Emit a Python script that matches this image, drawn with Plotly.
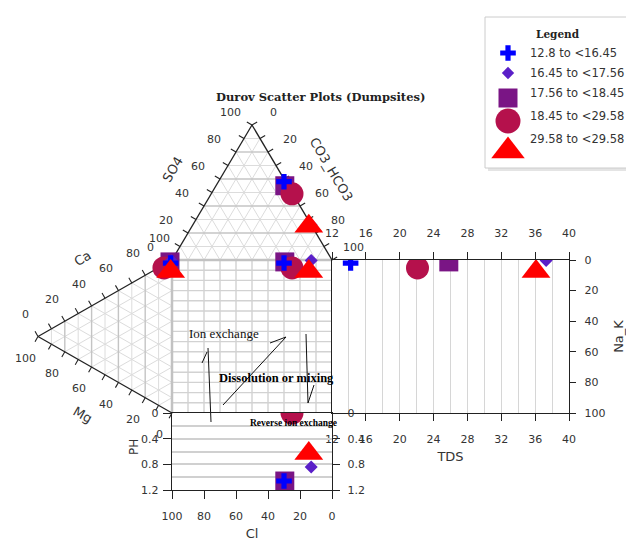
import math
import plotly.graph_objects as go

# ------------------------------------------------------------------ data
classes = ["12.8 to <16.45", "16.45 to <17.56", "17.56 to <18.45",
           "18.45 to <29.58", "29.58 to <29.58"]
# anion composition (% meq)
cl_pct = [1.0, 0.0, 2.0, 0.5, 2.0]
so4_pct = [58.0, 26.0, 55.0, 49.0, 25.0]
hco3_pct = [41.0, 74.0, 43.0, 50.5, 73.0]
# cation composition (% meq)
ca_pct = [97.5, 99.5, 98.0, 91.8, 92.0]
mg_pct = [1.0, 0.5, 1.5, 6.0, 1.0]
nak_pct = [1.5, 0.0, 0.5, 2.2, 7.0]
tds = [14.2, 37.3, 25.8, 22.1, 36.1]
ph = [1.06, 0.84, 1.06, 0.0, 0.63]

tds_ticks = [12, 16, 20, 24, 28, 32, 36, 40]
pct_ticks = [0, 20, 40, 60, 80, 100]
ph_ticks = [0, 0.4, 0.8, 1.2]

# ------------------------------------------------------------------ styles
SYMBOLS = ["cross", "diamond", "square", "circle", "triangle-up"]
COLORS = ["#0000FF", "#5A1FC8", "#7A1585", "#B5114C", "#FF0000"]
SIZES = [13, 10, 19, 23, 25]
LEG_SIZES = [13, 9.5, 19, 25, 29]
DRAW_ORDER = [2, 3, 1, 0, 4]
TICK_FONT = dict(family="DejaVu Sans", size=11, color="#333333")
TITLE_FONT = dict(family="DejaVu Sans", size=13, color="#333333")
AX_LINE = "#222222"

# ------------------------------------------------------------------ geometry (px)
W, H = 626, 541
SQ_L, SQ_R, SQ_T, SQ_B = 172.0, 332.0, 260.0, 413.0
TDS_R = 569.0
PH_B = 490.0
TOP_H = 135.0
LEFT_W = 134.0
KX = (SQ_R - SQ_L) / 100.0
KY = (SQ_B - SQ_T) / 100.0


def to_u(p):
    """pixel position -> units of the main (square) axes"""
    return ((SQ_R - p[0]) / KX, (p[1] - SQ_T) / KY)


def mix(w, verts):
    s = float(sum(w))
    return (sum(wi * v[0] for wi, v in zip(w, verts)) / s,
            sum(wi * v[1] for wi, v in zip(w, verts)) / s)


def lerp(a, b, t):
    return (a[0] + (b[0] - a[0]) * t, a[1] + (b[1] - a[1]) * t)


V_CL = (SQ_L, SQ_T)
V_HCO3 = (SQ_R, SQ_T)
V_SO4 = ((SQ_L + SQ_R) / 2, SQ_T - TOP_H)
ANION_V = (V_CL, V_SO4, V_HCO3)

V_CA = (SQ_L, SQ_T)
V_NA = (SQ_L, SQ_B)
V_MG = (SQ_L - LEFT_W, (SQ_T + SQ_B) / 2)
CATION_V = (V_CA, V_MG, V_NA)

fig = go.Figure()


def seg_trace(segs, color, width):
    xs, ys = [], []
    for a, b in segs:
        ua, ub = to_u(a), to_u(b)
        xs += [ua[0], ub[0], None]
        ys += [ua[1], ub[1], None]
    fig.add_trace(go.Scatter(x=xs, y=ys, mode="lines", hoverinfo="skip",
                             line=dict(color=color, width=width),
                             xaxis="x", yaxis="y", showlegend=False))


# ------------------------------------------------------------------ grids
light, strong = [], []
for k in range(1, 10):
    t = k / 10.0
    # anion triangle (weights: Cl, SO4, HCO3)
    s = (mix((1 - t, t, 0), ANION_V), mix((0, t, 1 - t), ANION_V))
    (strong if k % 2 == 0 else light).append(s)
    light.append((mix((t, 1 - t, 0), ANION_V), mix((t, 0, 1 - t), ANION_V)))
    light.append((mix((0, 1 - t, t), ANION_V), mix((1 - t, 0, t), ANION_V)))
    # cation triangle (weights: Ca, Mg, Na+K)
    s = (mix((1 - t, t, 0), CATION_V), mix((0, t, 1 - t), CATION_V))
    (strong if k % 2 == 0 else light).append(s)
    light.append((mix((t, 1 - t, 0), CATION_V), mix((t, 0, 1 - t), CATION_V)))
    light.append((mix((0, 1 - t, t), CATION_V), mix((1 - t, 0, t), CATION_V)))
seg_trace(light, "#dcdcdc", 1)
seg_trace(strong, "#c4c4c4", 1.4)

sq_grid = []
for i in range(1, 10):
    x = SQ_L + (SQ_R - SQ_L) * i / 10
    sq_grid.append(((x, SQ_T), (x, SQ_B)))
for i in range(1, 15):
    y = SQ_T + (SQ_B - SQ_T) * i / 15
    sq_grid.append(((SQ_L, y), (SQ_R, y)))
seg_trace(sq_grid, "#d2d2d2", 1.4)

# inner edges shared with the square
seg_trace([(V_CA, V_NA), (V_CL, V_HCO3)], "#c2c2c2", 2.5)

# ------------------------------------------------------------------ ternary axes
tern_axes = [
    ("SO4", V_CL, V_SO4, ANION_V),
    ("CO3_HCO3", V_SO4, V_HCO3, ANION_V),
    ("Ca", V_MG, V_CA, CATION_V),
    ("Mg", V_NA, V_MG, CATION_V),
]
outline, ticks = [], []
annotations = []
for name, a, b, verts in tern_axes:
    outline.append((a, b))
    cx = sum(v[0] for v in verts) / 3
    cy = sum(v[1] for v in verts) / 3
    dx, dy = b[0] - a[0], b[1] - a[1]
    ln = math.hypot(dx, dy)
    n = (dy / ln, -dx / ln)
    mid = lerp(a, b, 0.5)
    if n[0] * (mid[0] - cx) + n[1] * (mid[1] - cy) < 0:
        n = (-n[0], -n[1])
    for v in range(0, 101, 10):
        p = lerp(a, b, v / 100)
        ticks.append((p, (p[0] + 6 * n[0], p[1] + 6 * n[1])))
    for v in pct_ticks:
        p = lerp(a, b, v / 100)
        u = to_u((p[0] + 25 * n[0], p[1] + 25 * n[1]))
        annotations.append(dict(x=u[0], y=u[1], xref="x", yref="y", text=str(v),
                                showarrow=False, font=TICK_FONT))
    ang = math.degrees(math.atan2(dy, dx))
    if ang > 90:
        ang -= 180
    if ang < -90:
        ang += 180
    u = to_u((mid[0] + 46 * n[0], mid[1] + 46 * n[1]))
    annotations.append(dict(x=u[0], y=u[1], xref="x", yref="y", text=name,
                            textangle=ang, showarrow=False,
                            font=dict(family="DejaVu Sans", size=13, color="#333333")))
seg_trace(outline, "#222222", 1.3)
seg_trace(ticks, "#222222", 1.1)

# ------------------------------------------------------------------ process arrows in the square
proc = [
    ((208, 348), (211, 422)), ((202, 363), (207, 352)),
    ((223, 405), (286, 337)), ((270, 343), (286, 337)),
    ((306, 334), (308, 403)), ((308, 403), (314, 385)),
]
seg_trace(proc, "#111111", 1)
for txt, pos, fnt in [
    ("Ion exchange", (224, 333), dict(family="Liberation Serif", size=13, color="#111")),
    ("<b>Dissolution or mixing</b>", (276, 378), dict(family="Liberation Serif", size=12.5, color="#000")),
    ("<b>Reverse ion exchange</b>", (293, 423), dict(family="Liberation Serif", size=9.5, color="#000")),
]:
    u = to_u(pos)
    annotations.append(dict(x=u[0], y=u[1], xref="x", yref="y", text=txt,
                            showarrow=False, font=fnt))

# ------------------------------------------------------------------ sample points
for i in DRAW_ORDER:
    an = mix((cl_pct[i], so4_pct[i], hco3_pct[i]), ANION_V)
    ca = mix((ca_pct[i], mg_pct[i], nak_pct[i]), CATION_V)
    pts = [to_u(an), to_u(ca), to_u((an[0], ca[1]))]
    mk = dict(symbol=SYMBOLS[i], color=COLORS[i], size=SIZES[i], line=dict(width=0))
    fig.add_trace(go.Scatter(x=[p[0] for p in pts], y=[p[1] for p in pts], mode="markers",
                             marker=mk, xaxis="x", yaxis="y", name=classes[i],
                             showlegend=False))
    # TDS panel shares the Na+K projection of the square
    fig.add_trace(go.Scatter(x=[tds[i]], y=[to_u(ca)[1]], mode="markers", marker=mk,
                             xaxis="x2", yaxis="y2", showlegend=False))
    # pH panel shares the anion projection of the square
    fig.add_trace(go.Scatter(x=[to_u(an)[0]], y=[ph[i]], mode="markers", marker=mk,
                             xaxis="x3", yaxis="y3", showlegend=False))

# empty traces so the mirrored label axes are built
fig.add_trace(go.Scatter(x=[None], y=[None], xaxis="x5", yaxis="y2", showlegend=False))
fig.add_trace(go.Scatter(x=[None], y=[None], xaxis="x3", yaxis="y7", showlegend=False))

# ------------------------------------------------------------------ legend box
LG_L, LG_T, LG_B = 485.0, 17.0, 168.0
LG_MARK_ROWS = [53, 73, 98, 121, 151]
LG_TEXT_ROWS = [53, 73, 93, 116, 139]
LG_MX, LG_TX = 508.0, 528.0
for i in range(len(classes)):
    fig.add_trace(go.Scatter(x=[LG_MX], y=[LG_MARK_ROWS[i]], mode="markers",
                             marker=dict(symbol=SYMBOLS[i], color=COLORS[i],
                                         size=LEG_SIZES[i], line=dict(width=0)),
                             xaxis="x4", yaxis="y4", showlegend=False, hoverinfo="skip"))
    annotations.append(dict(x=LG_TX, y=LG_TEXT_ROWS[i], xref="x4", yref="y4", text=classes[i],
                            xanchor="left", yanchor="middle", showarrow=False,
                            font=dict(family="DejaVu Sans", size=11.5, color="#333333")))
annotations.append(dict(x=558, y=34, xref="x4", yref="y4", text="<b>Legend</b>",
                        showarrow=False, xanchor="center", yanchor="middle",
                        font=dict(family="DejaVu Serif", size=10.5, color="#222")))
annotations.append(dict(x=320 / W, y=1 - 97 / H, xref="paper", yref="paper",
                        xanchor="center", yanchor="middle",
                        text="<b>Durov Scatter Plots (Dumpsites)</b>", showarrow=False,
                        font=dict(family="DejaVu Serif", size=11.5, color="#222")))
annotations.append(dict(x=134 / W, y=1 - 447 / H, xref="paper", yref="paper",
                        xanchor="center", yanchor="middle", textangle=-90,
                        text="PH", showarrow=False,
                        font=dict(family="DejaVu Sans", size=12, color="#333")))

shapes = [
    dict(type="rect", xref="paper", yref="paper", layer="below",
         x0=(LG_L + 3) / W, x1=(W + 10) / W, y0=1 - (LG_B + 3) / H, y1=1 - (LG_T + 3) / H,
         fillcolor="#e4e4e4", line=dict(width=0)),
    dict(type="rect", xref="paper", yref="paper", layer="below",
         x0=LG_L / W, x1=(W + 10) / W, y0=1 - LG_B / H, y1=1 - LG_T / H,
         fillcolor="white", line=dict(color="#cccccc", width=1)),
]

# ------------------------------------------------------------------ axes
u0 = to_u((0, 0))
u1 = to_u((W, H))
hidden = dict(visible=False, showgrid=False, zeroline=False, fixedrange=True, automargin=False)
common = dict(showline=True, linecolor=AX_LINE, linewidth=1.4, ticks="outside",
              tickcolor=AX_LINE, tickfont=TICK_FONT, zeroline=False, fixedrange=True,
              automargin=False)

fig.update_layout(
    template="none",
    width=W, height=H, autosize=False,
    margin=dict(l=0, r=0, t=0, b=0, pad=0, autoexpand=False),
    paper_bgcolor="white", plot_bgcolor="rgba(0,0,0,0)",
    showlegend=False,
    xaxis=dict(domain=[0, 1], range=[u0[0], u1[0]], anchor="y", **hidden),
    yaxis=dict(domain=[0, 1], range=[u1[1], u0[1]], anchor="x", **hidden),
    # TDS panel
    xaxis2=dict(domain=[SQ_R / W, TDS_R / W], anchor="y2", range=[12, 40],
                tickmode="array", tickvals=tds_ticks, ticklen=7, ticklabelstandoff=9,
                showgrid=True, gridcolor="#d6d6d6", gridwidth=1.2,
                minor=dict(dtick=2, tick0=12, showgrid=True, gridcolor="#d6d6d6", gridwidth=1.2),
                title=dict(text="TDS", font=TITLE_FONT, standoff=6), **common),
    xaxis5=dict(overlaying="x2", side="top", anchor="y2", range=[12, 40],
                tickmode="array", tickvals=tds_ticks, ticklen=7, ticklabelstandoff=10,
                showgrid=False, **common),
    yaxis2=dict(domain=[1 - SQ_B / H, 1 - SQ_T / H], anchor="x2", range=[100, 0],
                side="right", tickmode="array", tickvals=pct_ticks, ticklen=6,
                ticklabelstandoff=6, mirror=True, showgrid=False,
                title=dict(text="Na_K", font=TITLE_FONT, standoff=10), **common),
    # pH panel
    xaxis3=dict(domain=[SQ_L / W, SQ_R / W], anchor="y3", range=[100, 0],
                tickmode="array", tickvals=pct_ticks, ticklen=8, ticklabelstandoff=8,
                mirror=True, showgrid=False,
                title=dict(text="Cl", font=TITLE_FONT, standoff=7), **common),
    yaxis3=dict(domain=[1 - PH_B / H, 1 - SQ_B / H], anchor="x3", range=[1.2, 0],
                tickmode="array", tickvals=ph_ticks, ticklen=8, ticklabelstandoff=2,
                mirror=True, showgrid=True, gridcolor="#d0d0d0", gridwidth=1.8,
                minor=dict(dtick=0.2, tick0=0, showgrid=True, gridcolor="#d0d0d0", gridwidth=1.8),
                **common),
    yaxis7=dict(overlaying="y3", side="right", anchor="x3", range=[1.2, 0],
                tickmode="array", tickvals=ph_ticks, ticklen=7, ticklabelstandoff=5,
                showgrid=False, **common),
    # legend layout axes (pixel units)
    xaxis4=dict(domain=[LG_L / W, 1], range=[LG_L, W], anchor="y4", **hidden),
    yaxis4=dict(domain=[0, 1], range=[H, 0], anchor="x4", **hidden),
    annotations=annotations,
    shapes=shapes,
)

fig.write_html("out.html")
